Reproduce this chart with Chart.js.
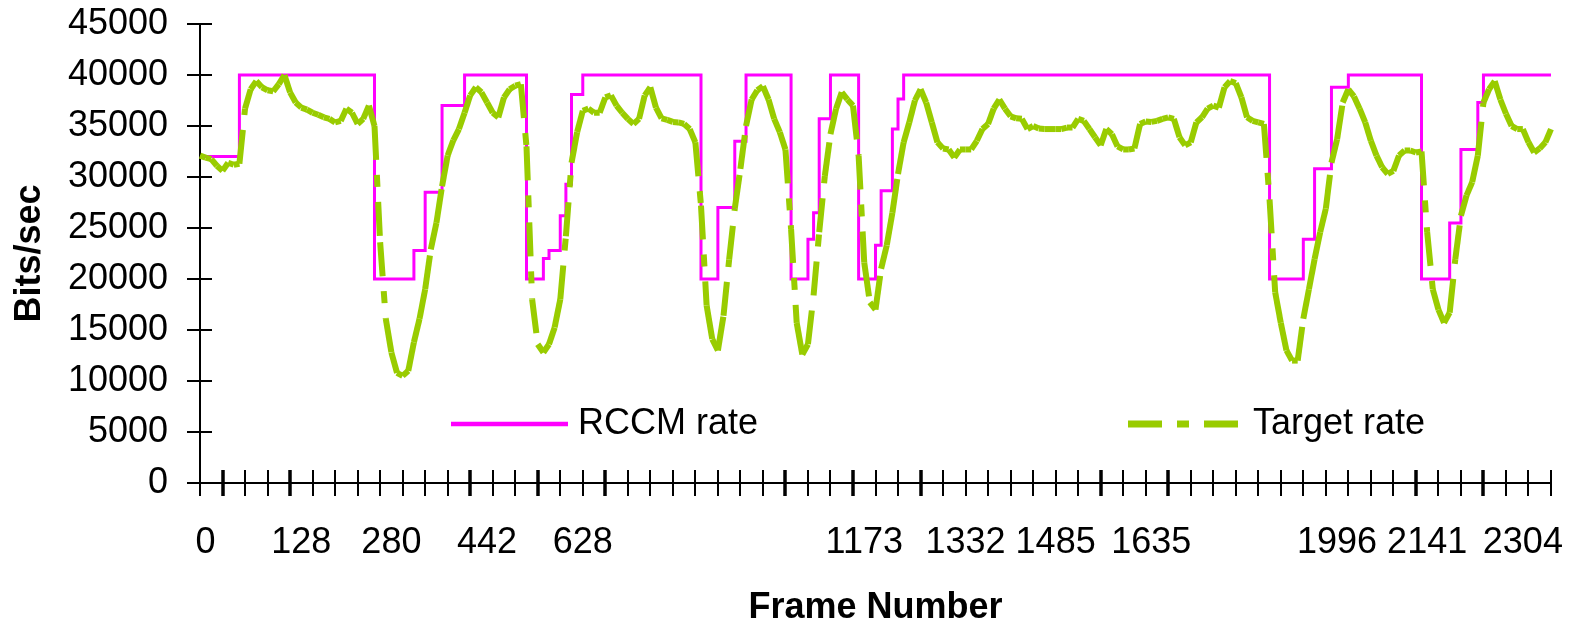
<!DOCTYPE html>
<html>
<head>
<title>RCCM rate vs Target rate</title>
<style>
body {
	margin: 0;
	background: #fff;
}

.chart-container {
	width: 1573px;
	height: 624px;
}
</style>
<script src="https://cdn.jsdelivr.net/npm/chart.js"></script>
</head>
<body>
	<div class="chart-container">
		<canvas id="chart"></canvas>
	</div>
	<script>
		// frame labels shown under the axis, and the sample index each one sits at
		const frameLabels = ['0', '128', '280', '442', '628', '1173', '1332', '1485', '1635', '1996', '2141', '2304'];
		const frameLabelAt = [1, 18, 34, 51, 68, 118, 136, 152, 169, 202, 218, 235];

		// RCCM rate (bits/sec), one value per sample
		const rccmRate = [
			32000, 32000, 32000, 32000, 32000, 32000, 32000, 40000, 40000, 40000,
			40000, 40000, 40000, 40000, 40000, 40000, 40000, 40000, 40000, 40000,
			40000, 40000, 40000, 40000, 40000, 40000, 40000, 40000, 40000, 40000,
			40000, 20000, 20000, 20000, 20000, 20000, 20000, 20000, 22800, 22800,
			28500, 28500, 28500, 37000, 37000, 37000, 37000, 40000, 40000, 40000,
			40000, 40000, 40000, 40000, 40000, 40000, 40000, 40000, 20000, 20000,
			20000, 22000, 22800, 22800, 26200, 29300, 38100, 38100, 40000, 40000,
			40000, 40000, 40000, 40000, 40000, 40000, 40000, 40000, 40000, 40000,
			40000, 40000, 40000, 40000, 40000, 40000, 40000, 40000, 40000, 20000,
			20000, 20000, 27000, 27000, 27000, 33500, 33500, 40000, 40000, 40000,
			40000, 40000, 40000, 40000, 40000, 20000, 20000, 20000, 23900, 26500,
			35700, 35700, 40000, 40000, 40000, 40000, 40000, 20000, 20000, 20000,
			23300, 28650, 28650, 34700, 37650, 40000, 40000, 40000, 40000, 40000,
			40000, 40000, 40000, 40000, 40000, 40000, 40000, 40000, 40000, 40000,
			40000, 40000, 40000, 40000, 40000, 40000, 40000, 40000, 40000, 40000,
			40000, 40000, 40000, 40000, 40000, 40000, 40000, 40000, 40000, 40000,
			40000, 40000, 40000, 40000, 40000, 40000, 40000, 40000, 40000, 40000,
			40000, 40000, 40000, 40000, 40000, 40000, 40000, 40000, 40000, 40000,
			40000, 40000, 40000, 40000, 40000, 40000, 40000, 40000, 40000, 40000,
			20000, 20000, 20000, 20000, 20000, 20000, 23900, 23900, 30800, 30800,
			30800, 38800, 38800, 38800, 40000, 40000, 40000, 40000, 40000, 40000,
			40000, 40000, 40000, 40000, 40000, 40000, 40000, 20000, 20000, 20000,
			20000, 20000, 25500, 25500, 32700, 32700, 32700, 37300, 40000, 40000,
			40000, 40000, 40000, 40000, 40000, 40000, 40000, 40000, 40000, 40000,
			40000
		];

		// Target rate (bits/sec), one value per sample
		const targetRate = [
			32100, 31900, 31750, 31100, 30600, 31400, 31200, 31300, 36700, 38600,
			39400, 38800, 38500, 38400, 39100, 40000, 38300, 37300, 36800, 36600,
			36300, 36100, 35850, 35700, 35350, 35500, 36700, 36300, 35200, 35700,
			37000, 35000, 23600, 16100, 12800, 10800, 10500, 11000, 13800, 16100,
			19000, 22900, 25500, 29100, 32100, 33600, 34700, 36300, 38000, 38800,
			38300, 37300, 36300, 35850, 37800, 38600, 38950, 39100, 33000, 18000,
			13600, 12800, 13600, 15250, 18000, 24200, 31400, 34400, 36500, 36700,
			36300, 36300, 37800, 38000, 37000, 36300, 35700, 35200, 35700, 38000,
			38800, 36800, 35750, 35600, 35400, 35350, 35200, 34700, 33400, 27200,
			17400, 14100, 13000, 16400, 21900, 26900, 30800, 35000, 37600, 38500,
			38900, 37600, 35700, 34400, 32700, 24900, 15700, 12600, 13600, 18400,
			24600, 30100, 34200, 36700, 38300, 37600, 37000, 32100, 21600, 17700,
			17000, 21000, 23300, 26500, 30300, 33400, 35350, 37500, 38600, 37300,
			35350, 33400, 32800, 32700, 31900, 32700, 32700, 32700, 33550, 34700,
			35200, 36700, 37600, 36700, 35950, 35750, 35700, 34700, 35000, 34750,
			34700, 34700, 34700, 34700, 34850, 34850, 35700, 35500, 34700, 33900,
			33100, 34700, 34200, 33000, 32700, 32700, 32800, 35200, 35450, 35400,
			35500, 35700, 35850, 35700, 33900, 33100, 33400, 35350, 35850, 36700,
			37000, 36800, 38800, 39400, 39200, 37800, 35850, 35500, 35350, 35200,
			27800, 18700, 15700, 13000, 12000, 12000, 16100, 19000, 21950, 24600,
			26900, 31400, 33700, 37300, 38600, 37900, 36700, 35350, 33550, 32100,
			30950, 30300, 30600, 32100, 32600, 32600, 32400, 32500, 24600, 19000,
			17000, 15700, 16700, 21950, 26200, 28200, 29500, 32100, 37300, 38600,
			39400, 37600, 36200, 35000, 34700, 34700, 33400, 32400, 32800, 33400,
			34700
		];

		const categories = rccmRate.map((v, i) => {
			const k = frameLabelAt.indexOf(i);
			return k >= 0 ? frameLabels[k] : '';
		});

		// a tick mark every 4 samples, some drawn heavier like in the original
		const TICK_EVERY = 4;
		const BOLD_TICKS = [1, 4, 12, 15, 18, 26, 29, 32, 40, 43, 54, 57];

		const crossTicks = {
			id: 'crossTicks',
			beforeDatasetsDraw(chart) {
				const ctx = chart.ctx;
				const x = chart.scales.x;
				const y = chart.scales.y;
				const axisY = y.getPixelForValue(0);
				ctx.save();
				ctx.strokeStyle = '#000';
				ctx.lineWidth = 2;
				y.ticks.forEach(t => {
					const py = Math.round(y.getPixelForValue(t.value));
					ctx.beginPath();
					ctx.moveTo(x.left - 13, py);
					ctx.lineTo(x.left + 12, py);
					ctx.stroke();
				});
				for (let i = 0; i < categories.length; i += TICK_EVERY) {
					const px = Math.round(x.getPixelForValue(i));
					ctx.lineWidth = BOLD_TICKS.includes(i / TICK_EVERY) ? 3.5 : 2;
					ctx.beginPath();
					ctx.moveTo(px, axisY - 13);
					ctx.lineTo(px, axisY + 13);
					ctx.stroke();
				}
				ctx.restore();
			}
		};

		// legend sits inside the plot, above the axis
		const legendItems = [
			{ dataset: 0, from: 451, to: 568, textX: 578, width: 4.5 },
			{ dataset: 1, from: 1128, to: 1239, textX: 1253, width: 7 }
		];
		const LEGEND_Y = 424;

		const innerLegend = {
			id: 'innerLegend',
			afterDatasetsDraw(chart) {
				const ctx = chart.ctx;
				ctx.save();
				legendItems.forEach(item => {
					const ds = chart.data.datasets[item.dataset];
					ctx.strokeStyle = ds.borderColor;
					ctx.lineWidth = item.width;
					ctx.lineCap = 'butt';
					ctx.setLineDash(ds.borderDash || []);
					ctx.beginPath();
					ctx.moveTo(item.from, LEGEND_Y);
					ctx.lineTo(item.to, LEGEND_Y);
					ctx.stroke();
					ctx.setLineDash([]);
					ctx.fillStyle = '#000';
					ctx.font = "36px 'Liberation Sans', Arial, sans-serif";
					ctx.textBaseline = 'middle';
					ctx.textAlign = 'left';
					ctx.fillText(ds.label, item.textX, LEGEND_Y);
				});
				ctx.restore();
			}
		};

		Chart.defaults.font.family = "'Liberation Sans', Arial, sans-serif";
		Chart.defaults.color = '#000';

		const ctx = document.getElementById('chart').getContext('2d');
		const myChart = new Chart(ctx, {
			type: 'line',
			data: {
				labels: categories,
				datasets: [{
					label: 'RCCM rate',
					data: rccmRate,
					borderColor: '#ff00ff',
					borderWidth: 3,
					stepped: true,
					pointRadius: 0,
					fill: false,
					order: 2
				}, {
					label: 'Target rate',
					data: targetRate,
					borderColor: '#99cc00',
					borderWidth: 6,
					borderDash: [34, 15, 12, 15],
					borderJoinStyle: 'round',
					tension: 0,
					pointRadius: 0,
					fill: false,
					order: 1,
					// like the original, the dash pattern starts over on every segment,
					// so only the long steep segments show gaps
					segment: {
						borderDashOffset: c => (c.p0DataIndex % 2) * 0.001
					}
				}]
			},
			options: {
				responsive: true,
				maintainAspectRatio: false,
				animation: false,
				devicePixelRatio: 1,
				layout: {
					padding: { top: 24, right: 22, left: 0, bottom: 0 }
				},
				plugins: {
					legend: { display: false },
					tooltip: { enabled: false }
				},
				scales: {
					x: {
						grid: { display: false, drawTicks: false },
						border: { display: true, color: '#000', width: 2 },
						ticks: {
							autoSkip: false,
							maxRotation: 0,
							minRotation: 0,
							padding: 38,
							font: { size: 36 },
							color: '#000'
						},
						title: {
							display: true,
							text: 'Frame Number',
							font: { size: 36, weight: 'bold', lineHeight: 0.9 },
							color: '#000',
							padding: { top: 0, bottom: 0 }
						},
						afterFit: scale => {
							scale.height = 141;
							scale.paddingLeft = 0;
							scale.paddingRight = 0;
						}
					},
					y: {
						min: 0,
						max: 45000,
						grid: { display: false, drawTicks: false },
						border: { display: true, color: '#000', width: 2 },
						ticks: {
							stepSize: 5000,
							padding: 32,
							font: { size: 36 },
							color: '#000',
							callback: value => String(value)
						},
						title: {
							display: true,
							text: 'Bits/sec',
							font: { size: 36, weight: 'bold', lineHeight: 1.05 },
							color: '#000',
							padding: { top: 11, bottom: 0 }
						},
						afterFit: scale => {
							scale.width = 200;
							scale.paddingTop = 0;
							scale.paddingBottom = 0;
						}
					}
				}
			},
			plugins: [crossTicks, innerLegend]
		});
	</script>
</body>
</html>
